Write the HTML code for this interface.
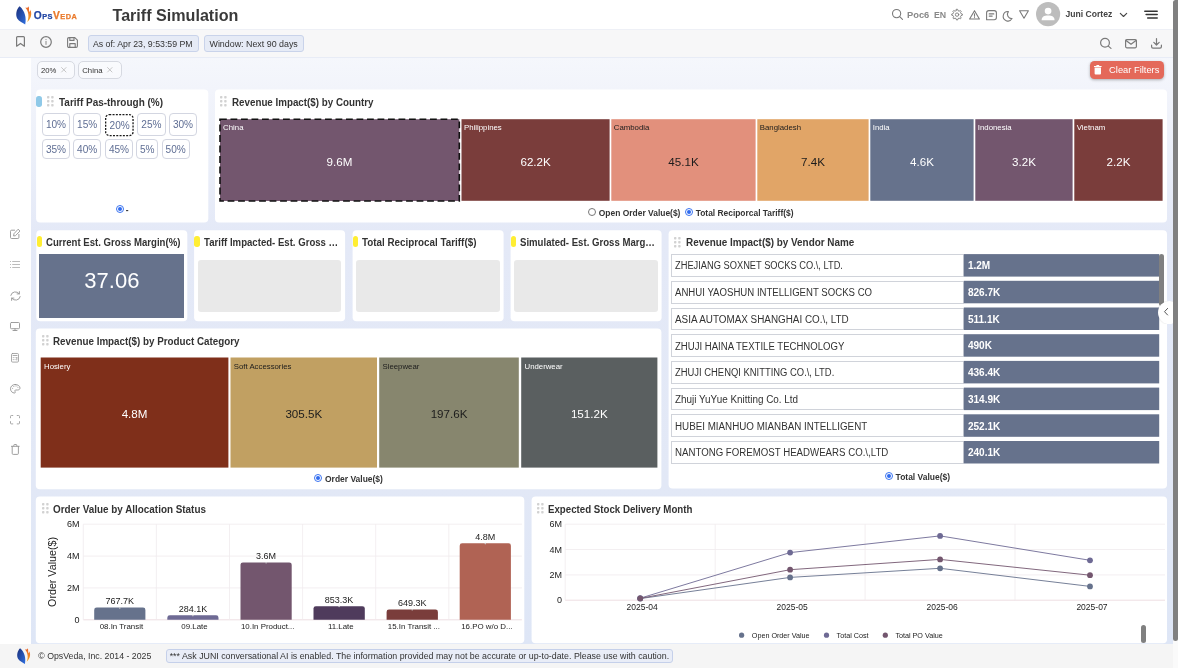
<!DOCTYPE html><html><head><meta charset="utf-8"><title>Tariff Simulation</title><style>
*{box-sizing:border-box;margin:0;padding:0}
html,body{width:1178px;height:668px;overflow:hidden;background:#fff}
body{font-family:"Liberation Sans",sans-serif;color:#333;position:relative;-webkit-font-smoothing:antialiased}
.abs{position:absolute}
.t{position:absolute;white-space:nowrap;line-height:1}
#content{position:absolute;left:31px;top:57px;width:1142px;height:587px;background:linear-gradient(180deg,#f5f7fc 0px,#f2f4fb 33px,#ebeff9 100px,#e4e9f7 175px,#e2e8f6 430px,#dee6f6 100%)}
.pbtn{position:absolute;border:1.1px solid #d3d6e1;border-radius:4px;background:#fff;color:#5f6e94;font-size:10.1px;text-align:center;line-height:19px;height:21px}
.ph{position:absolute;background:#e9e9e9;border-radius:3px}
.radio{position:absolute;width:8px;height:8px;border-radius:50%;border:1px solid #3b74f0;background:#fff}
.radio.on:after{content:"";position:absolute;left:1px;top:1px;width:4px;height:4px;border-radius:50%;background:#2f6bf0}
.radio.off{border-color:#777}
.chip{position:absolute;border:1px solid #c9d3ea;background:#e6ebf6;border-radius:3px;font-size:8.7px;line-height:16px;color:#333;white-space:nowrap;text-align:center}
.fchip{position:absolute;border:1px solid #d6d9e1;background:rgba(255,255,255,0.45);border-radius:5px;font-size:7.8px;line-height:16px;color:#333;white-space:nowrap}
svg{position:absolute;overflow:visible}
</style></head><body>
<div class="abs" style="left:0;top:0;width:1178px;height:29px;background:#fff"></div>
<div class="abs" style="left:0;top:29px;width:1173px;height:28.3px;background:#f7f7f8;border-top:1px solid #eef0f6"></div>
<div id="content"></div>
<div class="abs" style="left:0;top:57px;width:1173px;height:1px;background:#e8ecf6"></div>
<div class="abs" style="left:0;top:644px;width:1178px;height:24px;background:#f5f5f5"></div>
<svg style="left:16px;top:6px" width="16.0" height="19.0" viewBox="0 0 16 19">
<defs><linearGradient id="lgb" x1="0" y1="0" x2="1" y2="1"><stop offset="0" stop-color="#1b2f7a"/><stop offset="1" stop-color="#2f6fe0"/></linearGradient>
<linearGradient id="lgo" x1="0" y1="0" x2="0" y2="1"><stop offset="0" stop-color="#e8602a"/><stop offset="1" stop-color="#f6a623"/></linearGradient></defs>
<path d="M3.6 0.3 C0.2 3.5 -0.6 9 1.2 12.6 C3 15.6 7 17 9.2 18.6 C10.6 12 9 5 3.6 0.3 Z" fill="url(#lgb)"/>
<path d="M9.2 1.6 C11 2.2 12 1.4 12.6 0.2 C13.4 2.6 12.6 4.6 13.6 6 C14.6 4.6 14.2 3.4 14.2 3.4 C16.6 8 14.6 13 11.2 16 C13.2 11.6 13 5.6 9.2 1.6 Z" fill="url(#lgo)"/>
</svg>
<div class="t" style="left:33.7px;top:10.1px;font-weight:bold;font-size:10.2px;line-height:12px;letter-spacing:0.5px;-webkit-text-stroke:0.25px currentColor"><span style="color:#2347a5">O<span style="font-size:7.4px">PS</span></span><span style="color:#ea7a2c">V<span style="font-size:7.4px">EDA</span></span></div>
<div class="t " style="top:5.50px;font-size:16.12px;line-height:18px;color:#3a3a3a;font-weight:bold;left:112.50px;">Tariff Simulation</div>
<svg style="left:891.5px;top:9.4px" width="11" height="11" viewBox="0 0 11 11" fill="none" stroke="#7a7a7a" stroke-width="1.1" stroke-linecap="round" stroke-linejoin="round"><circle cx="4.6" cy="4.6" r="4.1"/><path d="M7.7 7.7 L10.5 10.3"/></svg>
<div class="t " style="top:9.80px;font-size:9.33px;line-height:10px;color:#888;font-weight:bold;left:907.00px;">Poc6</div>
<div class="t " style="top:9.80px;font-size:8.78px;line-height:10px;color:#888;font-weight:bold;left:933.90px;">EN</div>
<svg style="left:951px;top:9px" width="12" height="12" viewBox="0 0 12 12" fill="none" stroke="#7a7a7a" stroke-width="0.9" stroke-linecap="round" stroke-linejoin="round"><path d="M5.5 0.3 L6.6 0.3 L7 1.7 L8.1 2.2 L9.4 1.5 L10.2 2.3 L9.5 3.6 L10 4.7 L11.4 5.1 L11.4 6.2 L10 6.6 L9.5 7.7 L10.2 9 L9.4 9.8 L8.1 9.1 L7 9.6 L6.6 11 L5.5 11 L5.1 9.6 L4 9.1 L2.7 9.8 L1.9 9 L2.6 7.7 L2.1 6.6 L0.7 6.2 L0.7 5.1 L2.1 4.7 L2.6 3.6 L1.9 2.3 L2.7 1.5 L4 2.2 L5.1 1.7 Z"/><circle cx="6.05" cy="5.65" r="1.7"/></svg>
<svg style="left:969px;top:10px" width="11" height="10" viewBox="0 0 11 10" fill="none" stroke="#7a7a7a" stroke-width="1.1" stroke-linecap="round" stroke-linejoin="round"><path d="M5.5 0.7 L10.4 9 L0.6 9 Z"/><path d="M5.5 3.8 L5.5 6.2 M5.5 7.5 L5.5 7.6"/></svg>
<svg style="left:986px;top:9.5px" width="11" height="11" viewBox="0 0 11 11" fill="none" stroke="#7a7a7a" stroke-width="1.1" stroke-linecap="round" stroke-linejoin="round"><path d="M2.8 0.6 H8.2 Q10.4 0.6 10.4 2.8 V7.6 Q10.4 9.8 8.2 9.8 H0.6 V2.8 Q0.6 0.6 2.8 0.6 Z"/><path d="M3.2 3.9 H7.8 M3.2 6.1 H6.2"/></svg>
<svg style="left:1002px;top:10.5px" width="11" height="11" viewBox="0 0 11 11" fill="none" stroke="#7a7a7a" stroke-width="1.1" stroke-linecap="round" stroke-linejoin="round"><path d="M6.4 0.6 A4.7 4.7 0 1 0 10 7.6 A4.3 4.3 0 0 1 6.4 0.6 Z"/></svg>
<svg style="left:1019px;top:10px" width="10" height="9" viewBox="0 0 10 9" fill="none" stroke="#7a7a7a" stroke-width="1.1" stroke-linecap="round" stroke-linejoin="round"><path d="M0.6 0.7 H9.4 L5 8.2 Z"/></svg>
<svg style="left:1036px;top:2.3px" width="24.2" height="24.2" viewBox="0 0 24 24"><circle cx="12" cy="12" r="12" fill="#bdbdbd"/><circle cx="12" cy="9" r="3.3" fill="#fff"/><path d="M5.6 18.2 C5.6 14.6 8 13.4 12 13.4 C16 13.4 18.4 14.6 18.4 18.2 Z" fill="#fff"/></svg>
<div class="t " style="top:9.20px;font-size:8.58px;line-height:10px;color:#444;font-weight:bold;left:1065.50px;">Juni Cortez</div>
<svg style="left:1120px;top:12.5px" width="7" height="4" viewBox="0 0 7 4" fill="none" stroke="#444" stroke-width="1.1" stroke-linecap="round" stroke-linejoin="round"><path d="M0.3 0.3 L3.5 3.5 L6.7 0.3"/></svg>
<svg style="left:1143px;top:9px" width="16" height="11" viewBox="0 0 16 11"><path d="M1.8 2.2 H14.2 M3.1 5.6 H14.2 M4.7 8.9 H14.2" stroke="#333" stroke-width="1.5" stroke-linecap="round" fill="none"/></svg>
<svg style="left:16px;top:36.2px" width="9" height="11" viewBox="0 0 9 11" fill="none" stroke="#7a7a7a" stroke-width="1.2" stroke-linecap="round" stroke-linejoin="round"><path d="M0.6 1.6 Q0.6 0.6 1.6 0.6 H7.4 Q8.4 0.6 8.4 1.6 V10.2 L4.5 7.4 L0.6 10.2 Z"/></svg>
<svg style="left:40.4px;top:35.9px" width="12" height="12" viewBox="0 0 12 12" fill="none" stroke="#7a7a7a" stroke-width="1.2" stroke-linecap="round" stroke-linejoin="round"><circle cx="6" cy="6" r="5.3"/><path d="M6 5.3 V8.4 M6 3.4 V3.5" stroke-width="0.9"/></svg>
<svg style="left:67px;top:36.6px" width="11" height="11" viewBox="0 0 11 11" fill="none" stroke="#7a7a7a" stroke-width="1.1" stroke-linecap="round" stroke-linejoin="round"><path d="M0.6 2 Q0.6 0.6 2 0.6 H7.8 L10.4 3.2 V9 Q10.4 10.4 9 10.4 H2 Q0.6 10.4 0.6 9 Z"/><path d="M2.8 0.8 V3.4 H7 V0.8 M2.8 10.2 V6.6 H8.2 V10.2"/></svg>
<div class="chip" style="left:88px;top:35px;width:110.8px;height:17.4px"></div>
<div class="t " style="top:39.00px;font-size:8.76px;line-height:10px;color:#333;left:92.90px;">As of: Apr 23, 9:53:59 PM</div>
<div class="chip" style="left:204.2px;top:35px;width:99.4px;height:17.4px"></div>
<div class="t " style="top:39.00px;font-size:8.9px;line-height:10px;color:#333;left:209.50px;">Window: Next 90 days</div>
<svg style="left:1099.5px;top:38px" width="12" height="12" viewBox="0 0 12 12" fill="none" stroke="#7a7a7a" stroke-width="1.2" stroke-linecap="round" stroke-linejoin="round"><circle cx="5" cy="4.8" r="4.4"/><path d="M8.3 8.1 L11 10.4"/></svg>
<svg style="left:1125px;top:38.5px" width="12" height="9.5" viewBox="0 0 12 9.5" fill="none" stroke="#7a7a7a" stroke-width="1.2" stroke-linecap="round" stroke-linejoin="round"><rect x="0.6" y="0.6" width="10.8" height="8.2" rx="1.2"/><path d="M1 1.4 L6 5.2 L11 1.4"/></svg>
<svg style="left:1151px;top:38px" width="11" height="11" viewBox="0 0 11 11" fill="none" stroke="#7a7a7a" stroke-width="1.2" stroke-linecap="round" stroke-linejoin="round"><path d="M5.5 0.6 V6.8 M2.8 4.4 L5.5 7 L8.2 4.4 M0.6 7.2 V8.8 Q0.6 10.2 2 10.2 H9 Q10.4 10.2 10.4 8.8 V7.2"/></svg>
<div class="fchip" style="left:37px;top:61px;width:38px;height:17.6px"></div>
<div class="t " style="top:65.70px;font-size:7.7px;line-height:9px;color:#333;left:41.00px;">20%</div>
<svg style="left:61px;top:67.1px" width="5.6" height="5.6" viewBox="0 0 5.6 5.6"><path d="M0.3 0.3 L5.3 5.3 M5.3 0.3 L0.3 5.3" stroke="#b9b9b9" stroke-width="0.8" fill="none"/></svg>
<div class="fchip" style="left:78.4px;top:61px;width:43.8px;height:17.6px"></div>
<div class="t " style="top:65.70px;font-size:7.73px;line-height:9px;color:#333;left:82.30px;">China</div>
<svg style="left:107.4px;top:67.1px" width="5.6" height="5.6" viewBox="0 0 5.6 5.6"><path d="M0.3 0.3 L5.3 5.3 M5.3 0.3 L0.3 5.3" stroke="#b9b9b9" stroke-width="0.8" fill="none"/></svg>
<div class="abs" style="left:1090px;top:61px;width:74px;height:18px;background:#e4695a;border-radius:4.5px;box-shadow:0 1px 3px rgba(0,0,0,0.3)"></div>
<svg style="left:1094px;top:65.2px" width="7.6" height="9.4" viewBox="0 0 7.6 9.4"><path d="M0 0.9 H2.2 L2.6 0 H5 L5.4 0.9 H7.6 V1.9 H0 Z M0.6 2.6 H7 V8.4 Q7 9.4 6 9.4 H1.6 Q0.6 9.4 0.6 8.4 Z" fill="#fff"/></svg>
<div class="t " style="top:65.20px;font-size:9.33px;line-height:10px;color:#fff;left:1109.10px;">Clear Filters</div>
<svg style="left:9.5px;top:229px" width="11" height="10" viewBox="0 0 11 10" fill="none" stroke="#949494" stroke-width="0.9" stroke-linecap="round" stroke-linejoin="round"><path d="M4.6 1.2 H1.6 Q0.5 1.2 0.5 2.3 V8.4 Q0.5 9.5 1.6 9.5 H7.8 Q8.9 9.5 8.9 8.4 V5.4"/><path d="M8.4 0.5 L10 2.1 L5.4 6.7 L3.6 7 L3.9 5.1 Z"/></svg>
<svg style="left:10px;top:261px" width="10" height="7" viewBox="0 0 10 7" fill="none" stroke="#b4b4b4" stroke-width="0.9" stroke-linecap="round" stroke-linejoin="round"><path d="M2.6 0.5 H9.6 M2.6 3.5 H9.6 M2.6 6.5 H9.6 M0.4 0.5 H0.6 M0.4 3.5 H0.6 M0.4 6.5 H0.6"/></svg>
<svg style="left:9.5px;top:290.5px" width="11" height="10" viewBox="0 0 11 10" fill="none" stroke="#949494" stroke-width="0.9" stroke-linecap="round" stroke-linejoin="round"><path d="M0.8 4.4 A4.6 4.2 0 0 1 9.2 2.8 M9.4 0.6 V2.9 H7.1 M10.2 5.6 A4.6 4.2 0 0 1 1.8 7.2 M1.6 9.4 V7.1 H3.9"/></svg>
<svg style="left:10px;top:321.5px" width="10" height="9" viewBox="0 0 10 9" fill="none" stroke="#949494" stroke-width="0.9" stroke-linecap="round" stroke-linejoin="round"><rect x="0.5" y="0.5" width="9" height="6.2" rx="0.9"/><path d="M5 6.8 V8.5 M3 8.5 H7"/></svg>
<svg style="left:11px;top:352.8px" width="8" height="9.6" viewBox="0 0 8 9.6" fill="none" stroke="#949494" stroke-width="0.8" stroke-linecap="round" stroke-linejoin="round"><rect x="0.5" y="0.5" width="7" height="8.6" rx="1.1"/><path d="M2 2.5 H6 M2.2 4.6 H2.4 M4 4.6 H4.1 M5.8 4.6 H5.9 M2.2 6.6 H2.4 M4 6.6 H4.1 M5.8 4.6 V7"/></svg>
<svg style="left:10px;top:384.3px" width="10.5" height="9.5" viewBox="0 0 10.5 9.5" fill="none" stroke="#949494" stroke-width="0.9" stroke-linecap="round" stroke-linejoin="round"><path d="M5.2 0.5 C2.4 0.5 0.5 2.4 0.5 4.8 C0.5 7.2 2.4 9 4.4 9 C5.6 9 5.4 7.9 5 7.4 C4.6 6.8 5 6 5.8 6 H7.6 C9 6 10 5.2 10 4 C10 2 8 0.5 5.2 0.5 Z"/><path d="M2.6 4.3 V4.4 M3.8 2.5 V2.6 M6 2 V2.1 M7.9 3.2 V3.3"/></svg>
<svg style="left:10px;top:414.5px" width="10" height="9.5" viewBox="0 0 10 9.5" fill="none" stroke="#9e9e9e" stroke-width="0.9" stroke-linecap="round" stroke-linejoin="round"><path d="M0.5 2.8 V1.4 Q0.5 0.5 1.4 0.5 H2.8 M7.2 0.5 H8.6 Q9.5 0.5 9.5 1.4 V2.8 M9.5 6.6 V8 Q9.5 8.9 8.6 8.9 H7.2 M2.8 8.9 H1.4 Q0.5 8.9 0.5 8 V6.6"/></svg>
<svg style="left:10.7px;top:444px" width="8.6" height="11" viewBox="0 0 8.6 11" fill="none" stroke="#949494" stroke-width="0.9" stroke-linecap="round" stroke-linejoin="round"><path d="M0.4 2.3 H8.2 M2.8 2.1 V1.2 Q2.8 0.5 3.5 0.5 H5.1 Q5.8 0.5 5.8 1.2 V2.1 M1.2 2.5 V9.4 Q1.2 10.4 2.2 10.4 H6.4 Q7.4 10.4 7.4 9.4 V2.5"/></svg>
<svg class="cardsvg" style="left:35px;top:88px" width="176" height="136"><rect x="1.10" y="1.60" width="172.20" height="133.00" rx="4" fill="#fff"/></svg>
<div class="abs" style="left:36.3px;top:95.5px;width:5.5px;height:11.3px;border-radius:2.7px;background:#8fc9e8"></div>
<svg style="left:46.9px;top:96.2px" width="7" height="11" viewBox="0 0 7 11" stroke="none"><rect x="0.0" y="0" width="2.4" height="2.4" rx="0.7" fill="#d2d2d2"/><rect x="4.2" y="0" width="2.4" height="2.4" rx="0.7" fill="#d2d2d2"/><rect x="0.0" y="4" width="2.4" height="2.4" rx="0.7" fill="#d2d2d2"/><rect x="4.2" y="4" width="2.4" height="2.4" rx="0.7" fill="#d2d2d2"/><rect x="0.0" y="8" width="2.4" height="2.4" rx="0.7" fill="#d2d2d2"/><rect x="4.2" y="8" width="2.4" height="2.4" rx="0.7" fill="#d2d2d2"/></svg>
<div class="t " style="top:96.80px;font-size:10.3px;line-height:11px;color:#333;font-weight:bold;left:58.70px;transform:scaleX(0.9689);transform-origin:0 0;">Tariff Pas-through (%)</div>
<div class="pbtn" style="left:42px;top:113.4px;width:28px;height:22.3px;line-height:22.4px">10%</div>
<div class="pbtn" style="left:73px;top:113.4px;width:28.4px;height:22.3px;line-height:22.4px">15%</div>
<div class="pbtn" style="left:105.3px;top:113.6px;width:28.7px;height:22.2px;line-height:24.4px;border:none">20%</div>
<svg style="left:105.3px;top:113.6px" width="28.7" height="22.2"><rect x="0.65" y="0.65" width="27.4" height="20.9" rx="3.6" fill="none" stroke="#1a1a1a" stroke-width="1.3" stroke-dasharray="2 1.3"/></svg>
<div class="pbtn" style="left:137.3px;top:113.4px;width:28.3px;height:22.3px;line-height:22.4px">25%</div>
<div class="pbtn" style="left:169.2px;top:113.4px;width:27.6px;height:22.3px;line-height:22.4px">30%</div>
<div class="pbtn" style="left:42px;top:139.3px;width:28px;height:20.2px;line-height:20.2px">35%</div>
<div class="pbtn" style="left:73px;top:139.3px;width:28.4px;height:20.2px;line-height:20.2px">40%</div>
<div class="pbtn" style="left:105.3px;top:139.3px;width:27.4px;height:20.2px;line-height:20.2px">45%</div>
<div class="pbtn" style="left:136.2px;top:139.3px;width:22.2px;height:20.2px;line-height:20.2px">5%</div>
<div class="pbtn" style="left:161.5px;top:139.3px;width:28.3px;height:20.2px;line-height:20.2px">50%</div>
<div class="radio on" style="left:115.9px;top:205px"></div>
<div class="t " style="top:205.30px;font-size:8.5px;line-height:10px;color:#333;font-weight:bold;left:125.80px;">-</div>
<svg class="cardsvg" style="left:214px;top:88px" width="955" height="136"><rect x="1.00" y="1.60" width="952.00" height="133.00" rx="4" fill="#fff"/></svg>
<svg style="left:220.4px;top:96px" width="7" height="11" viewBox="0 0 7 11" stroke="none"><rect x="0.0" y="0" width="2.4" height="2.4" rx="0.7" fill="#d2d2d2"/><rect x="4.2" y="0" width="2.4" height="2.4" rx="0.7" fill="#d2d2d2"/><rect x="0.0" y="4" width="2.4" height="2.4" rx="0.7" fill="#d2d2d2"/><rect x="4.2" y="4" width="2.4" height="2.4" rx="0.7" fill="#d2d2d2"/><rect x="0.0" y="8" width="2.4" height="2.4" rx="0.7" fill="#d2d2d2"/><rect x="4.2" y="8" width="2.4" height="2.4" rx="0.7" fill="#d2d2d2"/></svg>
<div class="t " style="top:96.60px;font-size:10.3px;line-height:11px;color:#333;font-weight:bold;left:232.00px;transform:scaleX(0.9505);transform-origin:0 0;">Revenue Impact($) by Country</div>
<svg style="left:218px;top:117px" width="244" height="86"><rect x="2" y="2.2" width="239.3" height="81.8" fill="#73566e" stroke="#111" stroke-width="1.6" stroke-dasharray="6.8 3.7"/></svg>
<div class="t " style="top:123.20px;font-size:7.8px;line-height:9px;color:#fff;left:223.10px;">China</div>
<div class="t " style="top:155.20px;font-size:11.6px;line-height:13px;color:#fff;left:139.50px;width:400px;text-align:center;">9.6M</div>
<svg style="left:460px;top:118px" width="152" height="85"><rect x="1.50" y="1.20" width="148.10" height="81.60" fill="#7a3d3b"/></svg>
<div class="t " style="top:123.20px;font-size:7.8px;line-height:9px;color:#fff;left:464.00px;">Philippines</div>
<div class="t " style="top:155.20px;font-size:11.6px;line-height:13px;color:#fff;left:335.60px;width:400px;text-align:center;">62.2K</div>
<svg style="left:610px;top:118px" width="148" height="85"><rect x="1.30" y="1.20" width="144.30" height="81.60" fill="#e2907c"/></svg>
<div class="t " style="top:123.20px;font-size:7.8px;line-height:9px;color:#1c1c1c;left:613.80px;">Cambodia</div>
<div class="t " style="top:155.20px;font-size:11.6px;line-height:13px;color:#1c1c1c;left:483.50px;width:400px;text-align:center;">45.1K</div>
<svg style="left:756px;top:118px" width="115" height="85"><rect x="1.30" y="1.20" width="111.30" height="81.60" fill="#e1a567"/></svg>
<div class="t " style="top:123.20px;font-size:7.8px;line-height:9px;color:#1c1c1c;left:759.80px;">Bangladesh</div>
<div class="t " style="top:155.20px;font-size:11.6px;line-height:13px;color:#1c1c1c;left:613.00px;width:400px;text-align:center;">7.4K</div>
<svg style="left:869px;top:118px" width="107" height="85"><rect x="1.30" y="1.20" width="103.30" height="81.60" fill="#66728c"/></svg>
<div class="t " style="top:123.20px;font-size:7.8px;line-height:9px;color:#fff;left:872.80px;">India</div>
<div class="t " style="top:155.20px;font-size:11.6px;line-height:13px;color:#fff;left:722.00px;width:400px;text-align:center;">4.6K</div>
<svg style="left:974px;top:118px" width="101" height="85"><rect x="1.30" y="1.20" width="97.30" height="81.60" fill="#73566e"/></svg>
<div class="t " style="top:123.20px;font-size:7.8px;line-height:9px;color:#fff;left:977.80px;">Indonesia</div>
<div class="t " style="top:155.20px;font-size:11.6px;line-height:13px;color:#fff;left:824.00px;width:400px;text-align:center;">3.2K</div>
<svg style="left:1073px;top:118px" width="92" height="85"><rect x="1.30" y="1.20" width="88.30" height="81.60" fill="#7a3d3b"/></svg>
<div class="t " style="top:123.20px;font-size:7.8px;line-height:9px;color:#fff;left:1076.80px;">Vietnam</div>
<div class="t " style="top:155.20px;font-size:11.6px;line-height:13px;color:#fff;left:918.50px;width:400px;text-align:center;">2.2K</div>
<div class="radio off" style="left:588.1px;top:207.8px"></div>
<div class="t " style="top:207.90px;font-size:8.45px;line-height:10px;color:#333;font-weight:bold;left:598.80px;">Open Order Value($)</div>
<div class="radio on" style="left:685.2px;top:207.6px"></div>
<div class="t " style="top:207.90px;font-size:8.41px;line-height:10px;color:#333;font-weight:bold;left:695.70px;">Total Reciporcal Tariff($)</div>
<svg class="cardsvg" style="left:35px;top:229px" width="154" height="94"><rect x="1.30" y="1.30" width="151.00" height="90.90" rx="4" fill="#fff"/></svg>
<div class="abs" style="left:36.5px;top:236px;width:5.4px;height:11px;border-radius:2.7px;background:#ffee33"></div>
<div class="t " style="top:237.20px;font-size:10.3px;line-height:11px;color:#333;font-weight:bold;left:45.90px;transform:scaleX(0.9320);transform-origin:0 0;">Current Est. Gross Margin(%)</div>
<div class="abs" style="left:39.3px;top:254px;width:145px;height:64px;background:#66728c"></div>
<div class="t " style="top:268.30px;font-size:22px;line-height:25px;color:#fff;left:-88.15px;width:400px;text-align:center;">37.06</div>
<svg class="cardsvg" style="left:193px;top:229px" width="154" height="94"><rect x="1.10" y="1.30" width="151.00" height="90.90" rx="4" fill="#fff"/></svg>
<div class="abs" style="left:194.29999999999998px;top:236px;width:5.4px;height:11px;border-radius:2.7px;background:#ffee33"></div>
<div class="t " style="top:237.20px;font-size:10.3px;line-height:11px;color:#333;font-weight:bold;left:203.70px;width:145.9px;overflow:hidden;text-overflow:ellipsis;transform:scaleX(0.9320);transform-origin:0 0;">Tariff Impacted- Est. Gross Margin(%)</div>
<div class="ph" style="left:197.9px;top:260px;width:143.6px;height:52.4px"></div>
<svg class="cardsvg" style="left:351px;top:229px" width="154" height="94"><rect x="1.60" y="1.30" width="151.00" height="90.90" rx="4" fill="#fff"/></svg>
<div class="abs" style="left:352.8px;top:236px;width:5.4px;height:11px;border-radius:2.7px;background:#ffee33"></div>
<div class="t " style="top:237.20px;font-size:10.3px;line-height:11px;color:#333;font-weight:bold;left:362.20px;transform:scaleX(0.9553);transform-origin:0 0;">Total Reciprocal Tariff($)</div>
<div class="ph" style="left:356.40000000000003px;top:260px;width:143.6px;height:52.4px"></div>
<svg class="cardsvg" style="left:509px;top:229px" width="154" height="94"><rect x="1.60" y="1.30" width="151.00" height="90.90" rx="4" fill="#fff"/></svg>
<div class="abs" style="left:510.8px;top:236px;width:5.4px;height:11px;border-radius:2.7px;background:#ffee33"></div>
<div class="t " style="top:237.20px;font-size:10.3px;line-height:11px;color:#333;font-weight:bold;left:520.20px;width:145.9px;overflow:hidden;text-overflow:ellipsis;transform:scaleX(0.9320);transform-origin:0 0;">Simulated- Est. Gross Margin(%)</div>
<div class="ph" style="left:514.4px;top:260px;width:143.6px;height:52.4px"></div>
<svg class="cardsvg" style="left:667px;top:229px" width="502" height="262"><rect x="1.60" y="1.30" width="498.40" height="258.30" rx="4" fill="#fff"/></svg>
<svg style="left:674px;top:236.5px" width="7" height="11" viewBox="0 0 7 11" stroke="none"><rect x="0.0" y="0" width="2.4" height="2.4" rx="0.7" fill="#d2d2d2"/><rect x="4.2" y="0" width="2.4" height="2.4" rx="0.7" fill="#d2d2d2"/><rect x="0.0" y="4" width="2.4" height="2.4" rx="0.7" fill="#d2d2d2"/><rect x="4.2" y="4" width="2.4" height="2.4" rx="0.7" fill="#d2d2d2"/><rect x="0.0" y="8" width="2.4" height="2.4" rx="0.7" fill="#d2d2d2"/><rect x="4.2" y="8" width="2.4" height="2.4" rx="0.7" fill="#d2d2d2"/></svg>
<div class="t " style="top:237.20px;font-size:10.3px;line-height:11px;color:#333;font-weight:bold;left:685.70px;transform:scaleX(0.9612);transform-origin:0 0;">Revenue Impact($) by Vendor Name</div>
<div class="abs" style="left:671.1px;top:254.10px;width:293px;height:22.9px;border:1px solid #d0d3da;background:#fff"></div>
<svg style="left:962px;top:253px" width="199" height="26"><rect x="1.80" y="1.10" width="195.40" height="22.50" fill="#66728c"/></svg>
<div class="t " style="top:260.40px;font-size:10px;line-height:11px;color:#333;left:675.00px;transform:scaleX(0.9290);transform-origin:0 0;">ZHEJIANG SOXNET SOCKS CO.\, LTD.</div>
<div class="t " style="top:260.30px;font-size:10.05px;line-height:11px;color:#fff;font-weight:bold;left:967.90px;">1.2M</div>
<div class="abs" style="left:671.1px;top:280.80px;width:293px;height:22.9px;border:1px solid #d0d3da;background:#fff"></div>
<svg style="left:962px;top:279px" width="199" height="26"><rect x="1.80" y="1.80" width="195.40" height="22.50" fill="#66728c"/></svg>
<div class="t " style="top:287.10px;font-size:10px;line-height:11px;color:#333;left:675.00px;transform:scaleX(0.9610);transform-origin:0 0;">ANHUI YAOSHUN INTELLIGENT SOCKS CO</div>
<div class="t " style="top:287.00px;font-size:10.05px;line-height:11px;color:#fff;font-weight:bold;left:967.90px;">826.7K</div>
<div class="abs" style="left:671.1px;top:307.50px;width:293px;height:22.9px;border:1px solid #d0d3da;background:#fff"></div>
<svg style="left:962px;top:306px" width="199" height="26"><rect x="1.80" y="1.50" width="195.40" height="22.50" fill="#66728c"/></svg>
<div class="t " style="top:313.80px;font-size:10px;line-height:11px;color:#333;left:675.00px;transform:scaleX(0.9880);transform-origin:0 0;">ASIA AUTOMAX SHANGHAI CO.\, LTD</div>
<div class="t " style="top:313.70px;font-size:10.05px;line-height:11px;color:#fff;font-weight:bold;left:967.90px;">511.1K</div>
<div class="abs" style="left:671.1px;top:334.20px;width:293px;height:22.9px;border:1px solid #d0d3da;background:#fff"></div>
<svg style="left:962px;top:333px" width="199" height="26"><rect x="1.80" y="1.20" width="195.40" height="22.50" fill="#66728c"/></svg>
<div class="t " style="top:340.50px;font-size:10px;line-height:11px;color:#333;left:675.00px;transform:scaleX(0.9570);transform-origin:0 0;">ZHUJI HAINA TEXTILE TECHNOLOGY</div>
<div class="t " style="top:340.40px;font-size:10.05px;line-height:11px;color:#fff;font-weight:bold;left:967.90px;">490K</div>
<div class="abs" style="left:671.1px;top:360.90px;width:293px;height:22.9px;border:1px solid #d0d3da;background:#fff"></div>
<svg style="left:962px;top:359px" width="199" height="26"><rect x="1.80" y="1.90" width="195.40" height="22.50" fill="#66728c"/></svg>
<div class="t " style="top:367.20px;font-size:10px;line-height:11px;color:#333;left:675.00px;transform:scaleX(0.9410);transform-origin:0 0;">ZHUJI CHENQI KNITTING CO.\, LTD.</div>
<div class="t " style="top:367.10px;font-size:10.05px;line-height:11px;color:#fff;font-weight:bold;left:967.90px;">436.4K</div>
<div class="abs" style="left:671.1px;top:387.60px;width:293px;height:22.9px;border:1px solid #d0d3da;background:#fff"></div>
<svg style="left:962px;top:386px" width="199" height="26"><rect x="1.80" y="1.60" width="195.40" height="22.50" fill="#66728c"/></svg>
<div class="t " style="top:393.90px;font-size:10px;line-height:11px;color:#333;left:675.00px;transform:scaleX(0.9900);transform-origin:0 0;">Zhuji YuYue Knitting Co. Ltd</div>
<div class="t " style="top:393.80px;font-size:10.05px;line-height:11px;color:#fff;font-weight:bold;left:967.90px;">314.9K</div>
<div class="abs" style="left:671.1px;top:414.30px;width:293px;height:22.9px;border:1px solid #d0d3da;background:#fff"></div>
<svg style="left:962px;top:413px" width="199" height="26"><rect x="1.80" y="1.30" width="195.40" height="22.50" fill="#66728c"/></svg>
<div class="t " style="top:420.60px;font-size:10px;line-height:11px;color:#333;left:675.00px;transform:scaleX(0.9800);transform-origin:0 0;">HUBEI MIANHUO MIANBAN INTELLIGENT</div>
<div class="t " style="top:420.50px;font-size:10.05px;line-height:11px;color:#fff;font-weight:bold;left:967.90px;">252.1K</div>
<div class="abs" style="left:671.1px;top:441.00px;width:293px;height:22.9px;border:1px solid #d0d3da;background:#fff"></div>
<svg style="left:962px;top:440px" width="199" height="26"><rect x="1.80" y="1.00" width="195.40" height="22.50" fill="#66728c"/></svg>
<div class="t " style="top:447.30px;font-size:10px;line-height:11px;color:#333;left:675.00px;transform:scaleX(0.9670);transform-origin:0 0;">NANTONG FOREMOST HEADWEARS CO.\,LTD</div>
<div class="t " style="top:447.20px;font-size:10.05px;line-height:11px;color:#fff;font-weight:bold;left:967.90px;">240.1K</div>
<div class="abs" style="left:1159.2px;top:253.8px;width:5.2px;height:52px;border-radius:2.6px;background:#808080"></div>
<div class="abs" style="left:1158.2px;top:300.5px;width:14.5px;height:23px;overflow:hidden"><div style="position:absolute;left:0;top:0;width:23px;height:23px;border-radius:50%;background:#fff;box-shadow:0 0 2px rgba(0,0,0,0.15)"></div></div>
<svg style="left:1164px;top:308.3px" width="4" height="7.4" viewBox="0 0 4 7.4" fill="none" stroke="#555" stroke-width="1" stroke-linecap="round" stroke-linejoin="round"><path d="M3.6 0.4 L0.5 3.7 L3.6 7"/></svg>
<div class="radio on" style="left:884.6px;top:471.5px"></div>
<div class="t " style="top:472.20px;font-size:8.49px;line-height:10px;color:#333;font-weight:bold;left:895.60px;">Total Value($)</div>
<svg class="cardsvg" style="left:34px;top:327px" width="629" height="164"><rect x="1.80" y="1.50" width="625.60" height="160.70" rx="4" fill="#fff"/></svg>
<svg style="left:41.5px;top:334.6px" width="7" height="11" viewBox="0 0 7 11" stroke="none"><rect x="0.0" y="0" width="2.4" height="2.4" rx="0.7" fill="#d2d2d2"/><rect x="4.2" y="0" width="2.4" height="2.4" rx="0.7" fill="#d2d2d2"/><rect x="0.0" y="4" width="2.4" height="2.4" rx="0.7" fill="#d2d2d2"/><rect x="4.2" y="4" width="2.4" height="2.4" rx="0.7" fill="#d2d2d2"/><rect x="0.0" y="8" width="2.4" height="2.4" rx="0.7" fill="#d2d2d2"/><rect x="4.2" y="8" width="2.4" height="2.4" rx="0.7" fill="#d2d2d2"/></svg>
<div class="t " style="top:335.70px;font-size:10.3px;line-height:11px;color:#333;font-weight:bold;left:53.10px;transform:scaleX(0.9534);transform-origin:0 0;">Revenue Impact($) by Product Category</div>
<svg style="left:39px;top:356px" width="191" height="114"><rect x="1.70" y="1.50" width="187.70" height="110.10" fill="#7f2f1a"/></svg>
<div class="t " style="top:362.10px;font-size:7.8px;line-height:9px;color:#fff;left:44.00px;">Hosiery</div>
<div class="t " style="top:407.40px;font-size:11.6px;line-height:13px;color:#fff;left:-65.45px;width:400px;text-align:center;">4.8M</div>
<svg style="left:229px;top:356px" width="150" height="114"><rect x="1.50" y="1.50" width="146.50" height="110.10" fill="#c1a062"/></svg>
<div class="t " style="top:362.10px;font-size:7.8px;line-height:9px;color:#1c1c1c;left:233.80px;">Soft Accessories</div>
<div class="t " style="top:407.40px;font-size:11.6px;line-height:13px;color:#1c1c1c;left:103.75px;width:400px;text-align:center;">305.5K</div>
<svg style="left:378px;top:356px" width="143" height="114"><rect x="1.20" y="1.50" width="139.60" height="110.10" fill="#87866e"/></svg>
<div class="t " style="top:362.10px;font-size:7.8px;line-height:9px;color:#1c1c1c;left:382.50px;">Sleepwear</div>
<div class="t " style="top:407.40px;font-size:11.6px;line-height:13px;color:#1c1c1c;left:249.00px;width:400px;text-align:center;">197.6K</div>
<svg style="left:520px;top:356px" width="140" height="114"><rect x="1.20" y="1.50" width="136.20" height="110.10" fill="#5a5f60"/></svg>
<div class="t " style="top:362.10px;font-size:7.8px;line-height:9px;color:#fff;left:524.50px;">Underwear</div>
<div class="t " style="top:407.40px;font-size:11.6px;line-height:13px;color:#fff;left:389.30px;width:400px;text-align:center;">151.2K</div>
<div class="radio on" style="left:314.4px;top:473.8px"></div>
<div class="t " style="top:474.40px;font-size:8.47px;line-height:10px;color:#333;font-weight:bold;left:325.00px;">Order Value($)</div>
<svg class="cardsvg" style="left:34px;top:495px" width="492" height="150"><rect x="1.80" y="1.40" width="488.50" height="146.90" rx="4" fill="#fff"/></svg>
<svg style="left:41.5px;top:503px" width="7" height="11" viewBox="0 0 7 11" stroke="none"><rect x="0.0" y="0" width="2.4" height="2.4" rx="0.7" fill="#d2d2d2"/><rect x="4.2" y="0" width="2.4" height="2.4" rx="0.7" fill="#d2d2d2"/><rect x="0.0" y="4" width="2.4" height="2.4" rx="0.7" fill="#d2d2d2"/><rect x="4.2" y="4" width="2.4" height="2.4" rx="0.7" fill="#d2d2d2"/><rect x="0.0" y="8" width="2.4" height="2.4" rx="0.7" fill="#d2d2d2"/><rect x="4.2" y="8" width="2.4" height="2.4" rx="0.7" fill="#d2d2d2"/></svg>
<div class="t " style="top:503.60px;font-size:10.3px;line-height:11px;color:#333;font-weight:bold;left:52.90px;transform:scaleX(0.9602);transform-origin:0 0;">Order Value by Allocation Status</div>
<svg style="left:0;top:0" width="1178" height="668" viewBox="0 0 1178 668" font-family="Liberation Sans, sans-serif"><line x1="83.3" y1="619.8" x2="521.9" y2="619.8" stroke="#ead6da" stroke-width="0.8"/><text x="79.5" y="623.0" font-size="9" fill="#222" text-anchor="end">0</text><line x1="83.3" y1="587.9" x2="521.9" y2="587.9" stroke="#f0ebee" stroke-width="0.8"/><text x="79.5" y="591.1" font-size="9" fill="#222" text-anchor="end">2M</text><line x1="83.3" y1="556.1" x2="521.9" y2="556.1" stroke="#f0ebee" stroke-width="0.8"/><text x="79.5" y="559.3" font-size="9" fill="#222" text-anchor="end">4M</text><line x1="83.3" y1="524.2" x2="521.9" y2="524.2" stroke="#f0ebee" stroke-width="0.8"/><text x="79.5" y="527.4" font-size="9" fill="#222" text-anchor="end">6M</text><line x1="83.3" y1="524.2" x2="83.3" y2="619.8" stroke="#f0ebee" stroke-width="0.8"/><line x1="156.4" y1="524.2" x2="156.4" y2="619.8" stroke="#f0ebee" stroke-width="0.8"/><line x1="229.5" y1="524.2" x2="229.5" y2="619.8" stroke="#f0ebee" stroke-width="0.8"/><line x1="302.6" y1="524.2" x2="302.6" y2="619.8" stroke="#f0ebee" stroke-width="0.8"/><line x1="375.7" y1="524.2" x2="375.7" y2="619.8" stroke="#f0ebee" stroke-width="0.8"/><line x1="448.8" y1="524.2" x2="448.8" y2="619.8" stroke="#f0ebee" stroke-width="0.8"/><path d="M94.2 619.8 V610.0 Q94.2 607.6 96.7 607.6 H143.0 Q145.4 607.6 145.4 610.0 V619.8 Z" fill="#66728c"/><circle cx="119.8" cy="607.9" r="0.8" fill="#cfcfcf"/><text x="119.8" y="604.4" font-size="9" fill="#222" text-anchor="middle">767.7K</text><text x="121.4" y="629.2" font-size="7.9" fill="#222" text-anchor="middle">08.In Transit</text><path d="M167.3 619.8 V617.7 Q167.3 615.3 169.8 615.3 H216.1 Q218.5 615.3 218.5 617.7 V619.8 Z" fill="#6e6a94"/><circle cx="192.9" cy="615.6" r="0.8" fill="#cfcfcf"/><text x="192.9" y="612.1" font-size="9" fill="#222" text-anchor="middle">284.1K</text><text x="194.5" y="629.2" font-size="7.9" fill="#222" text-anchor="middle">09.Late</text><path d="M240.5 619.8 V564.8 Q240.5 562.4 242.9 562.4 H289.3 Q291.7 562.4 291.7 564.8 V619.8 Z" fill="#73566e"/><circle cx="266.1" cy="562.7" r="0.8" fill="#cfcfcf"/><text x="266.1" y="559.2" font-size="9" fill="#222" text-anchor="middle">3.6M</text><text x="267.7" y="629.2" font-size="7.9" fill="#222" text-anchor="middle">10.In Product...</text><path d="M313.5 619.8 V608.6 Q313.5 606.2 315.9 606.2 H362.4 Q364.8 606.2 364.8 608.6 V619.8 Z" fill="#4f3b5c"/><circle cx="339.1" cy="606.5" r="0.8" fill="#cfcfcf"/><text x="339.1" y="603.0" font-size="9" fill="#222" text-anchor="middle">853.3K</text><text x="340.8" y="629.2" font-size="7.9" fill="#222" text-anchor="middle">11.Late</text><path d="M386.6 619.8 V611.9 Q386.6 609.5 389.0 609.5 H435.5 Q437.9 609.5 437.9 611.9 V619.8 Z" fill="#7a3d3b"/><circle cx="412.2" cy="609.8" r="0.8" fill="#cfcfcf"/><text x="412.2" y="606.3" font-size="9" fill="#222" text-anchor="middle">649.3K</text><text x="413.9" y="629.2" font-size="7.9" fill="#222" text-anchor="middle">15.In Transit ...</text><path d="M459.7 619.8 V545.7 Q459.7 543.3 462.1 543.3 H508.6 Q510.9 543.3 510.9 545.7 V619.8 Z" fill="#b06354"/><circle cx="485.3" cy="543.6" r="0.8" fill="#cfcfcf"/><text x="485.3" y="540.1" font-size="9" fill="#222" text-anchor="middle">4.8M</text><text x="486.9" y="629.2" font-size="7.9" fill="#222" text-anchor="middle">16.PO w/o D...</text><text transform="translate(55.6,572) rotate(-90)" font-size="10.7" fill="#222" text-anchor="middle">Order Value($)</text></svg>
<svg class="cardsvg" style="left:530px;top:495px" width="639" height="150"><rect x="1.60" y="1.40" width="635.40" height="146.90" rx="4" fill="#fff"/></svg>
<svg style="left:537.3px;top:503px" width="7" height="11" viewBox="0 0 7 11" stroke="none"><rect x="0.0" y="0" width="2.4" height="2.4" rx="0.7" fill="#d2d2d2"/><rect x="4.2" y="0" width="2.4" height="2.4" rx="0.7" fill="#d2d2d2"/><rect x="0.0" y="4" width="2.4" height="2.4" rx="0.7" fill="#d2d2d2"/><rect x="4.2" y="4" width="2.4" height="2.4" rx="0.7" fill="#d2d2d2"/><rect x="0.0" y="8" width="2.4" height="2.4" rx="0.7" fill="#d2d2d2"/><rect x="4.2" y="8" width="2.4" height="2.4" rx="0.7" fill="#d2d2d2"/></svg>
<div class="t " style="top:503.60px;font-size:10.3px;line-height:11px;color:#333;font-weight:bold;left:548.30px;transform:scaleX(0.9417);transform-origin:0 0;">Expected Stock Delivery Month</div>
<svg style="left:0;top:0" width="1178" height="668" viewBox="0 0 1178 668" font-family="Liberation Sans, sans-serif"><line x1="565.2" y1="600.2" x2="1165.0" y2="600.2" stroke="#ead6da" stroke-width="0.8"/><text x="562" y="603.4" font-size="9" fill="#222" text-anchor="end">0</text><line x1="565.2" y1="574.9" x2="1165.0" y2="574.9" stroke="#f0ebee" stroke-width="0.8"/><text x="562" y="578.1" font-size="9" fill="#222" text-anchor="end">2M</text><line x1="565.2" y1="549.5" x2="1165.0" y2="549.5" stroke="#f0ebee" stroke-width="0.8"/><text x="562" y="552.7" font-size="9" fill="#222" text-anchor="end">4M</text><line x1="565.2" y1="524.2" x2="1165.0" y2="524.2" stroke="#f0ebee" stroke-width="0.8"/><text x="562" y="527.4" font-size="9" fill="#222" text-anchor="end">6M</text><line x1="565.2" y1="524.2" x2="565.2" y2="600.2" stroke="#f0ebee" stroke-width="0.8"/><line x1="715.2" y1="524.2" x2="715.2" y2="600.2" stroke="#f0ebee" stroke-width="0.8"/><line x1="865.1" y1="524.2" x2="865.1" y2="600.2" stroke="#f0ebee" stroke-width="0.8"/><line x1="1015.0" y1="524.2" x2="1015.0" y2="600.2" stroke="#f0ebee" stroke-width="0.8"/><polyline points="640.2,598.6 790.1,577.4 940.1,568.3 1090.0,586.4" fill="none" stroke="#66728c" stroke-width="0.9"/><circle cx="640.2" cy="598.6" r="2.9" fill="#66728c"/><circle cx="790.1" cy="577.4" r="2.9" fill="#66728c"/><circle cx="940.1" cy="568.3" r="2.9" fill="#66728c"/><circle cx="1090.0" cy="586.4" r="2.9" fill="#66728c"/><polyline points="640.2,598.2 790.1,552.6 940.1,535.9 1090.0,560.3" fill="none" stroke="#6e6a94" stroke-width="0.9"/><circle cx="640.2" cy="598.2" r="2.9" fill="#6e6a94"/><circle cx="790.1" cy="552.6" r="2.9" fill="#6e6a94"/><circle cx="940.1" cy="535.9" r="2.9" fill="#6e6a94"/><circle cx="1090.0" cy="560.3" r="2.9" fill="#6e6a94"/><polyline points="640.2,598.4 790.1,569.7 940.1,559.4 1090.0,575.2" fill="none" stroke="#73566e" stroke-width="0.9"/><circle cx="640.2" cy="598.4" r="2.9" fill="#73566e"/><circle cx="790.1" cy="569.7" r="2.9" fill="#73566e"/><circle cx="940.1" cy="559.4" r="2.9" fill="#73566e"/><circle cx="1090.0" cy="575.2" r="2.9" fill="#73566e"/><text x="642.2" y="610.2" font-size="8.5" fill="#222" text-anchor="middle">2025-04</text><text x="792.1" y="610.2" font-size="8.5" fill="#222" text-anchor="middle">2025-05</text><text x="942.1" y="610.2" font-size="8.5" fill="#222" text-anchor="middle">2025-06</text><text x="1092.0" y="610.2" font-size="8.5" fill="#222" text-anchor="middle">2025-07</text><circle cx="741.6" cy="635.2" r="2.6" fill="#66728c"/><text x="751.8" y="637.8" font-size="7.2" fill="#222">Open Order Value</text><circle cx="826.5" cy="635.2" r="2.6" fill="#6e6a94"/><text x="836.6" y="637.8" font-size="7.2" fill="#222">Total Cost</text><circle cx="885.3" cy="635.2" r="2.6" fill="#73566e"/><text x="895.4" y="637.8" font-size="7.2" fill="#222">Total PO Value</text></svg>
<div class="abs" style="left:1140.6px;top:624.8px;width:5.6px;height:18.4px;border-radius:2.8px;background:#808080"></div>
<svg style="left:16.8px;top:648px" width="13.76" height="16.34" viewBox="0 0 16 19">
<defs><linearGradient id="lfb" x1="0" y1="0" x2="1" y2="1"><stop offset="0" stop-color="#1b2f7a"/><stop offset="1" stop-color="#2f6fe0"/></linearGradient>
<linearGradient id="lfo" x1="0" y1="0" x2="0" y2="1"><stop offset="0" stop-color="#e8602a"/><stop offset="1" stop-color="#f6a623"/></linearGradient></defs>
<path d="M3.6 0.3 C0.2 3.5 -0.6 9 1.2 12.6 C3 15.6 7 17 9.2 18.6 C10.6 12 9 5 3.6 0.3 Z" fill="url(#lfb)"/>
<path d="M9.2 1.6 C11 2.2 12 1.4 12.6 0.2 C13.4 2.6 12.6 4.6 13.6 6 C14.6 4.6 14.2 3.4 14.2 3.4 C16.6 8 14.6 13 11.2 16 C13.2 11.6 13 5.6 9.2 1.6 Z" fill="url(#lfo)"/>
</svg>
<div class="t " style="top:650.90px;font-size:8.76px;line-height:10px;color:#333;left:38.30px;">&copy; OpsVeda, Inc. 2014 - 2025</div>
<div class="abs" style="left:166px;top:649px;width:507px;height:14px;background:#e9edf7;border:1px solid #c5d0ea;border-radius:3px"></div>
<div class="t " style="top:650.90px;font-size:8.84px;line-height:10px;color:#333;left:169.70px;">*** Ask JUNI conversational AI is enabled. The information provided may not be accurate or up-to-date. Please use with caution.</div>
<div class="abs" style="left:1173px;top:640px;width:5px;height:28px;background:#fafafa"></div>
<div class="abs" style="left:1173px;top:0;width:5px;height:641px;background:#808080;border-radius:2.5px 0 0 2.5px/2.5px 0 0 2.5px;border-bottom-left-radius:2.5px;border-bottom-right-radius:2.5px"></div>
</body></html>
